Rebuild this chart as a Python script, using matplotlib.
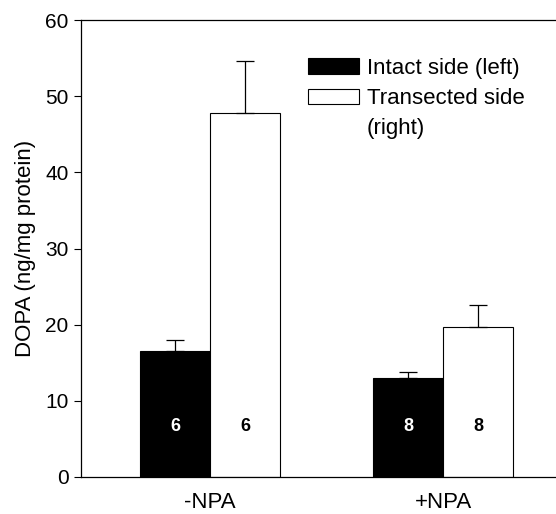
import numpy as np
import matplotlib.pyplot as plt
from matplotlib.patches import Patch

plt.rcParams['font.family'] = ['Liberation Sans', 'DejaVu Sans']

# data
groups = ['-NPA', '+NPA']
intact = [16.5, 13.0]
intact_err = [1.5, 0.8]
transected = [47.8, 19.7]
transected_err = [6.8, 2.9]
n_labels = ['6', '8']

fig = plt.figure(figsize=(5.56, 5.14), dpi=100)
ax = fig.add_axes([0.146, 0.072, 0.854, 0.889])

x = np.arange(len(groups))
w = 0.30

ax.bar(x - w/2, intact, w, color='black', edgecolor='black', linewidth=0.8)
ax.bar(x + w/2, transected, w, color='white', edgecolor='black', linewidth=0.8)

# upper error bars only
ax.errorbar(x - w/2, intact, yerr=[np.zeros(2), intact_err], fmt='none',
            ecolor='black', elinewidth=0.9, capsize=6.5, capthick=0.9)
ax.errorbar(x + w/2, transected, yerr=[np.zeros(2), transected_err], fmt='none',
            ecolor='black', elinewidth=0.9, capsize=6.5, capthick=0.9)

# n numbers inside the bars
for i in range(len(groups)):
    ax.text(x[i] - w/2, 6.6, n_labels[i], color='white', fontsize=13,
            fontweight='bold', ha='center', va='center')
    ax.text(x[i] + w/2, 6.6, n_labels[i], color='black', fontsize=13,
            fontweight='bold', ha='center', va='center')

ax.set_xlim(-0.554, 1.485)
ax.set_ylim(0, 60)
ax.set_yticks([0, 10, 20, 30, 40, 50, 60])
ax.set_xticks(x)
ax.set_xticklabels(groups)
ax.tick_params(axis='y', labelsize=15, length=5, width=0.8, direction='out', pad=4)
ax.tick_params(axis='x', labelsize=16, length=0, pad=11)
ax.set_ylabel('DOPA (ng/mg protein)', fontsize=16, labelpad=7)

ax.spines['right'].set_visible(False)
for s in ['left', 'top', 'bottom']:
    ax.spines[s].set_linewidth(0.9)

# legend: third row is the wrapped part of the second label
handles = [Patch(facecolor='black', edgecolor='black', linewidth=0.8),
           Patch(facecolor='white', edgecolor='black', linewidth=0.8),
           Patch(facecolor='none', edgecolor='none')]
labels = ['Intact side (left)', 'Transected side', '(right)']
ax.legend(handles, labels, loc='upper left', bbox_to_anchor=(0.459, 0.937),
          frameon=False, fontsize=16, handlelength=2.3, handleheight=0.7,
          handletextpad=0.35, labelspacing=0.42, borderaxespad=0)

plt.savefig('out.png', dpi=100)
